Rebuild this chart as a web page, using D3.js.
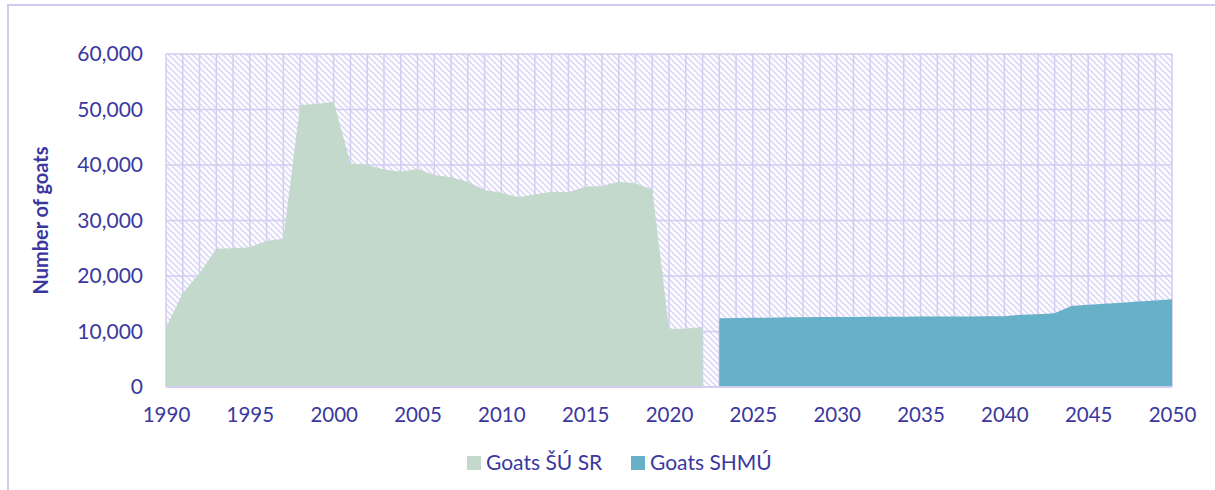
<!DOCTYPE html>
<html>
<head>
<meta charset="utf-8">
<script src="https://cdn.jsdelivr.net/npm/d3@7"></script>
<style>
  html, body { margin: 0; padding: 0; background: #fff; }
  svg { display: block; }
</style>
</head>
<body>
<svg id="chart" width="1215" height="490"></svg>
<script>
// Statistical office series (historical)
const yearsSU = d3.range(1990, 2023);
const goatsSU = [
  10700, 16900, 20500, 24900, 25000, 25200, 26300, 26700, 50800, 51000,
  51400, 40300, 40000, 39200, 38800, 39300, 38200, 37800, 37000, 35500,
  35000, 34200, 34700, 35200, 35100, 36100, 36200, 37000, 36700, 35600,
  10500, 10500, 10800
];
// Projection series
const yearsSHMU = d3.range(2023, 2051);
const goatsSHMU = [
  12400, 12450, 12500, 12500, 12550, 12550, 12600, 12600, 12600, 12650,
  12650, 12650, 12700, 12700, 12700, 12700, 12750, 12750, 13000, 13100,
  13300, 14600, 14800, 15000, 15200, 15400, 15600, 15800
];
const xTicks = d3.range(1990, 2051, 5);
const yTicks = [0, 10000, 20000, 30000, 40000, 50000, 60000];
const seriesNames = ["Goats ŠÚ SR", "Goats SHMÚ"];
const seriesColors = ["#c3d9cb", "#66b0c8"];

const textColor = "#3a389e";
const gridColor = "#d2cdf1";
const font = "Lato, 'Open Sans', sans-serif";

const svg = d3.select("#chart");
const m = { left: 166, right: 1172, top: 54, bottom: 387 };

const x = d3.scaleLinear().domain([1990, 2050]).range([m.left, m.right]);
const y = d3.scaleLinear().domain([0, 60000]).range([m.bottom, m.top]);

// outer frame
svg.append("rect")
  .attr("x", 8).attr("y", 5).attr("width", 1240).attr("height", 520)
  .attr("fill", "none").attr("stroke", "#d0ccf1").attr("stroke-width", 2);

// diagonal hatch for the plot background
const defs = svg.append("defs");
const pat = defs.append("pattern")
  .attr("id", "hatch").attr("patternUnits", "userSpaceOnUse")
  .attr("width", 6).attr("height", 6);
pat.append("rect").attr("width", 6).attr("height", 6).attr("fill", "#fdfdff");
pat.append("path")
  .attr("d", "M-1,-1 L7,7 M-1,5 L1,7 M5,-1 L7,1")
  .attr("stroke", "#dad6f5").attr("stroke-width", 1.5);

svg.append("rect")
  .attr("x", m.left).attr("y", m.top)
  .attr("width", m.right - m.left).attr("height", m.bottom - m.top)
  .attr("fill", "url(#hatch)");

// gridlines: every year vertically, every 10,000 horizontally
const grid = svg.append("g").attr("stroke", gridColor).attr("stroke-width", 1.5);
grid.selectAll("line.v").data(d3.range(1990, 2051)).join("line")
  .attr("x1", d => x(d)).attr("x2", d => x(d))
  .attr("y1", m.top).attr("y2", m.bottom);
grid.selectAll("line.h").data(yTicks).join("line")
  .attr("x1", m.left).attr("x2", m.right)
  .attr("y1", d => y(d)).attr("y2", d => y(d));

// areas
const area = d3.area()
  .x(d => x(d[0]))
  .y0(y(0))
  .y1(d => y(d[1]));

svg.append("path")
  .datum(d3.zip(yearsSU, goatsSU))
  .attr("fill", seriesColors[0])
  .attr("d", area);

svg.append("path")
  .datum(d3.zip(yearsSHMU, goatsSHMU))
  .attr("fill", seriesColors[1])
  .attr("d", area);

// baseline
svg.append("line")
  .attr("x1", m.left).attr("x2", m.right)
  .attr("y1", y(0)).attr("y2", y(0))
  .attr("stroke", gridColor).attr("stroke-width", 2);

// axes
const xAxis = d3.axisBottom(x).tickValues(xTicks).tickFormat(d3.format("d")).tickSize(0).tickPadding(20);
const gx = svg.append("g").attr("transform", `translate(0,${y(0)})`).call(xAxis);
gx.select(".domain").remove();
gx.selectAll("text").attr("fill", textColor).style("font-family", font).style("font-size", "20.5px");

const yAxis = d3.axisLeft(y).tickValues(yTicks).tickFormat(d3.format(",")).tickSize(0).tickPadding(23);
const gy = svg.append("g").attr("transform", `translate(${m.left},0)`).call(yAxis);
gy.select(".domain").remove();
gy.selectAll("text").attr("fill", textColor).style("font-family", font).style("font-size", "21px");

// y axis title
svg.append("text")
  .attr("transform", `translate(48,${(m.top + m.bottom) / 2}) rotate(-90)`)
  .attr("text-anchor", "middle")
  .attr("fill", textColor)
  .style("font-family", font).style("font-size", "20px").style("font-weight", "bold")
  .text("Number of goats");

// legend
const legendX = [467, 631];
const lg = svg.append("g");
seriesNames.forEach((name, i) => {
  lg.append("rect")
    .attr("x", legendX[i]).attr("y", 456)
    .attr("width", 14).attr("height", 14)
    .attr("fill", seriesColors[i]);
  lg.append("text")
    .attr("x", legendX[i] + 19).attr("y", 463)
    .attr("dy", "0.35em")
    .attr("fill", textColor)
    .style("font-family", font).style("font-size", "21px")
    .text(name);
});
</script>
</body>
</html>
